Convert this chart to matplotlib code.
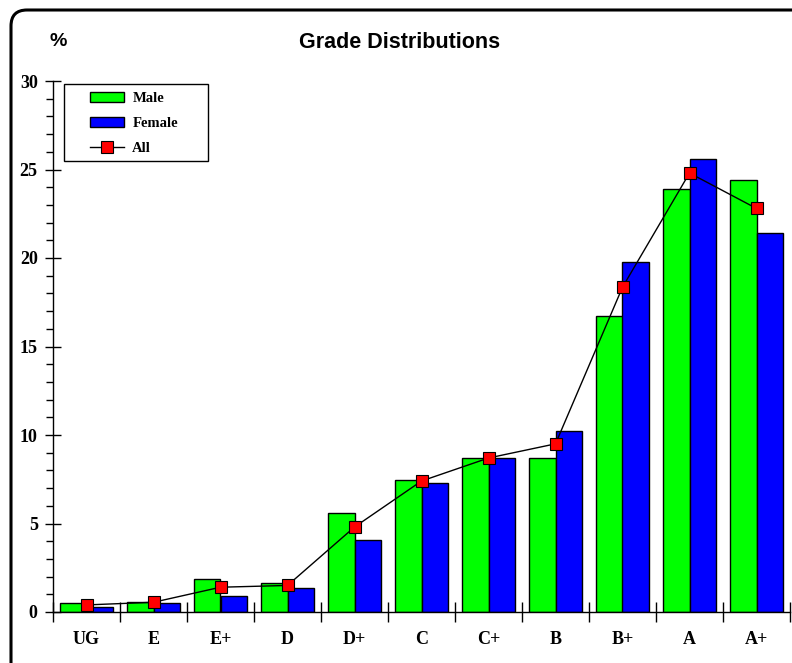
import matplotlib
matplotlib.use("Agg")
import matplotlib.pyplot as plt
import numpy as np
from matplotlib.patches import FancyBboxPatch, Rectangle, Patch
from matplotlib.transforms import IdentityTransform
from matplotlib.lines import Line2D

grades = ["UG", "E", "E+", "D", "D+", "C", "C+", "B", "B+", "A", "A+"]
male = [0.5, 0.55, 1.85, 1.65, 5.6, 7.45, 8.7, 8.7, 16.75, 23.9, 24.4]
female = [0.3, 0.5, 0.9, 1.35, 4.05, 7.3, 8.7, 10.2, 19.8, 25.6, 21.4]
all_ = [0.4, 0.55, 1.4, 1.5, 4.8, 7.4, 8.7, 9.5, 18.35, 24.8, 22.8]
yticks = [0, 5, 10, 15, 20, 25, 30]

W, H = 792, 663
AX_L, AX_R, AX_T, AX_B = 53, 790, 81, 612
fig = plt.figure(figsize=(W / 100, H / 100), dpi=100)
ax = fig.add_axes([AX_L / W, (H - AX_B) / H, (AX_R - AX_L) / W, (AX_B - AX_T) / H])

def ax_frac(px, py):
    return (px - AX_L) / (AX_R - AX_L), (AX_B - py) / (AX_B - AX_T)

x = np.arange(len(grades))
bw = 0.4
ax.bar(x - bw / 2, male, bw, color="#00ff00", edgecolor="black", linewidth=1.0, label="Male", zorder=2)
ax.bar(x + bw / 2, female, bw, color="#0000ff", edgecolor="black", linewidth=1.0, label="Female", zorder=2)
ax.plot(x, all_, color="black", linewidth=1.0, marker="s", markersize=8,
        markerfacecolor="#ff0000", markeredgecolor="black", markeredgewidth=0.8,
        label="All", zorder=3)

ax.set_xlim(-0.5, len(grades) - 0.5)
ax.set_ylim(0, 30)
for s in ["top", "right"]:
    ax.spines[s].set_visible(False)
for s in ["left", "bottom"]:
    ax.spines[s].set_linewidth(1.0)

serif_bold = dict(family="Liberation Serif", weight="bold", size=13)
ax.set_xticks(x)
ax.set_xticklabels(grades, **serif_bold)
ax.set_xticks(np.arange(-0.5, len(grades), 1.0), minor=True)
ax.tick_params(axis="x", which="major", length=0, pad=14)
ax.tick_params(axis="x", which="minor", direction="inout", length=14, width=1.0)

ax.set_yticks(yticks)
ax.set_yticklabels([str(v) for v in yticks], **serif_bold)
ax.set_yticks(np.arange(0, 31, 1), minor=True)
ax.tick_params(axis="y", which="major", direction="inout", length=12, width=1.0, pad=5)
ax.tick_params(axis="y", which="minor", direction="out", length=5, width=1.0)

# legend box
bx0, by0 = ax_frac(64, 161)
bx1, by1 = ax_frac(208, 84)
ax.add_patch(Rectangle((bx0, by0), bx1 - bx0, by1 - by0, transform=ax.transAxes,
                       facecolor="white", edgecolor="black", linewidth=1.0, zorder=4))

handles = [Patch(facecolor="#00ff00", edgecolor="black", linewidth=1.0),
           Patch(facecolor="#0000ff", edgecolor="black", linewidth=1.0),
           Line2D([0], [0], color="black", linewidth=1.0, marker="s", markersize=8,
                  markerfacecolor="#ff0000", markeredgecolor="black", markeredgewidth=0.8)]
leg = ax.legend(handles, ["Male", "Female", "All"], loc="upper left",
                bbox_to_anchor=ax_frac(90, 92),
                prop=dict(family="Liberation Serif", weight="bold", size=10.5),
                frameon=False, borderpad=0.0,
                labelspacing=0.8, handlelength=2.35, handleheight=0.7,
                handletextpad=0.55, borderaxespad=0.0)
leg.set_zorder(5)

fig.text(400 / W, 1 - 43 / H, "Grade Distributions", ha="center", va="center",
         family="Liberation Sans", weight="bold", size=15.5)
fig.text(58 / W, 1 - 42 / H, "%", ha="center", va="center",
         family="Liberation Sans", weight="bold", size=14)

frame = FancyBboxPatch((11, -30), 820, H - 10 + 30, boxstyle="round,pad=0,rounding_size=16",
                       transform=IdentityTransform(), facecolor="none", edgecolor="black",
                       linewidth=2.2, clip_on=False)
fig.patches.append(frame)

fig.savefig("out.png", dpi=100)
